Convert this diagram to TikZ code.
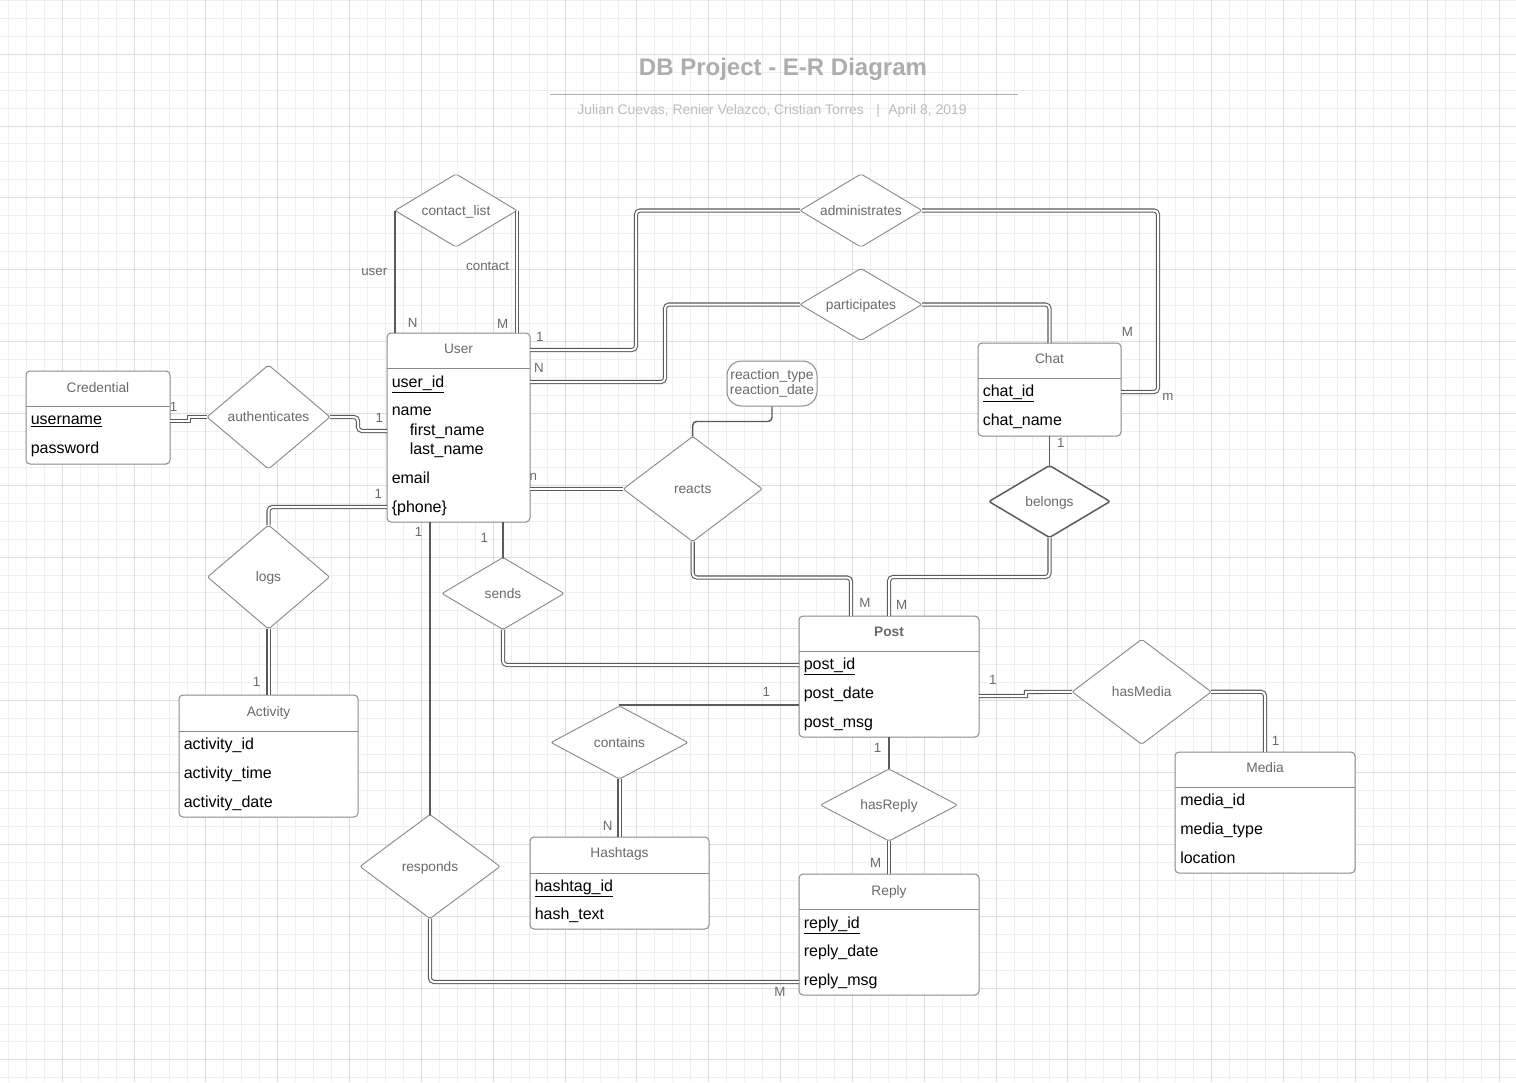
\documentclass[tikz,border=0pt]{standalone}
\usepackage{fontspec}
\setmainfont{Liberation Sans}
\usetikzlibrary{shapes.geometric,calc}
\definecolor{gridminor}{HTML}{EFEFEF}
\definecolor{gridmajor}{HTML}{DDDDDD}
\definecolor{linec}{HTML}{5A5A5A}
\definecolor{boxc}{HTML}{8A8A8A}
\definecolor{txtg}{HTML}{6A6A6A}
\definecolor{titlec}{HTML}{ADADAD}
\definecolor{subc}{HTML}{BDBDBD}
\begin{document}
\begin{tikzpicture}[x=0.75pt,y=-0.75pt,
  ent/.style={draw=boxc, line width=0.75pt, rounded corners=3pt, fill=white, anchor=north west, inner sep=0, outer sep=0},
  sep/.style={draw=boxc, line width=0.75pt},
  rel/.style={diamond, draw=boxc, line width=0.7pt, fill=white, inner sep=0, outer sep=0, rounded corners=1.5pt,
    font=\fontsize{10.3}{12}\selectfont, text=txtg, text height=0.7em, text depth=0pt},
  hdr/.style={font=\fontsize{10.3}{12}\selectfont, text=txtg, inner sep=0, text height=0.7em, text depth=0pt},
  attr/.style={font=\fontsize{12}{14}\selectfont, text=black, anchor=west, inner sep=0, text height=0.7em, text depth=0pt, yshift=-1.1pt},
  card/.style={font=\fontsize{10}{12}\selectfont, text=txtg, inner sep=0, text height=0.7em, text depth=0pt},
  dbl/.style={draw=linec, line width=0.8pt, double=white, double distance=1.5pt, rounded corners=3pt},
  dbljog/.style={draw=linec, line width=0.8pt, double=white, double distance=1.5pt, line join=miter},
  sgl/.style={draw=linec, line width=1.1pt},
]
\useasboundingbox (0,0) rectangle (1516,1082);
\fill[white] (0,0) rectangle (1516,1082);
% grid
\foreach \k in {0,...,84} {\pgfmathsetmacro\xx{8.3+17.96*\k}\draw[gridminor, line width=0.75pt] (\xx,0) -- (\xx,1082);}
\foreach \k in {0,...,60} {\pgfmathsetmacro\yy{0.3+17.96*\k}\draw[gridminor, line width=0.75pt] (0,\yy) -- (1516,\yy);}
\foreach \k in {3,7,...,83} {\pgfmathsetmacro\xx{8.3+17.96*\k}\draw[gridmajor, line width=0.75pt] (\xx,0) -- (\xx,1082);}
\foreach \k in {3,7,...,59} {\pgfmathsetmacro\yy{0.3+17.96*\k}\draw[gridmajor, line width=0.75pt] (0,\yy) -- (1516,\yy);}

% title
\node[font=\fontsize{18}{20}\selectfont\bfseries, text=titlec, inner sep=0, text height=0.72em, text depth=0pt] (title) at (783,70.5) {DB Project - E-R Diagram};
\draw[titlec, line width=1.4pt] (550,94.5) -- (1018,94.5);
\node[font=\fontsize{10.45}{12}\selectfont, text=subc, inner sep=0, text height=0.72em, text depth=0pt] (subtitle) at (772,109.5) {Julian Cuevas, Renier Velazco, Cristian Torres\hspace{0.9em}|\hspace{0.6em}April 8, 2019};

% entities
\node[ent, minimum width=144*0.75pt, minimum height=93*0.75pt] (credential) at (26,371) {};
\draw[sep] ($(credential.north west)+(0,35)$) -- ($(credential.north east)+(0,35)$);
\node[hdr] (credentialh) at ($(credential.north)+(0,16.5)$) {Credential};
\node[attr] (cred1) at ($(credential.north west)+(4.5,47)$) {\underline{username}};
\node[attr] (cred2) at ($(credential.north west)+(4.5,76)$) {password};

\node[ent, minimum width=143*0.75pt, minimum height=189*0.75pt] (user) at (387,333) {};
\draw[sep] ($(user.north west)+(0,35)$) -- ($(user.north east)+(0,35)$);
\node[hdr] (userh) at ($(user.north)+(0,16)$) {User};
\node[attr] (user1) at ($(user.north west)+(4.5,48)$) {\underline{user\_id}};
\node[attr] (user2) at ($(user.north west)+(4.5,76)$) {name};
\node[attr] (user3) at ($(user.north west)+(22.5,96)$) {first\_name};
\node[attr] (user4) at ($(user.north west)+(22.5,115)$) {last\_name};
\node[attr] (user5) at ($(user.north west)+(4.5,144)$) {email};
\node[attr] (user6) at ($(user.north west)+(4.5,173)$) {\{phone\}};

\node[ent, minimum width=143*0.75pt, minimum height=93*0.75pt] (chat) at (978,343) {};
\draw[sep] ($(chat.north west)+(0,35)$) -- ($(chat.north east)+(0,35)$);
\node[hdr] (chath) at ($(chat.north)+(0,16)$) {Chat};
\node[attr] (chat1) at ($(chat.north west)+(4.5,47)$) {\underline{chat\_id}};
\node[attr] (chat2) at ($(chat.north west)+(4.5,76)$) {chat\_name};

\node[ent, minimum width=180*0.75pt, minimum height=121*0.75pt] (post) at (799,616) {};
\draw[sep] ($(post.north west)+(0,35)$) -- ($(post.north east)+(0,35)$);
\node[hdr, font=\fontsize{10.3}{12}\selectfont\bfseries] (posth) at ($(post.north)+(0,16)$) {Post};
\node[attr] (post1) at ($(post.north west)+(4.5,47)$) {\underline{post\_id}};
\node[attr] (post2) at ($(post.north west)+(4.5,76)$) {post\_date};
\node[attr] (post3) at ($(post.north west)+(4.5,105)$) {post\_msg};

\node[ent, minimum width=179*0.75pt, minimum height=122*0.75pt] (activity) at (179,695) {};
\draw[sep] ($(activity.north west)+(0,36)$) -- ($(activity.north east)+(0,36)$);
\node[hdr] (activityh) at ($(activity.north)+(0,16.5)$) {Activity};
\node[attr] (act1) at ($(activity.north west)+(4.5,48)$) {activity\_id};
\node[attr] (act2) at ($(activity.north west)+(4.5,77)$) {activity\_time};
\node[attr] (act3) at ($(activity.north west)+(4.5,106)$) {activity\_date};

\node[ent, minimum width=179*0.75pt, minimum height=92*0.75pt] (hashtags) at (530,837) {};
\draw[sep] ($(hashtags.north west)+(0,36)$) -- ($(hashtags.north east)+(0,36)$);
\node[hdr] (hashtagsh) at ($(hashtags.north)+(0,16)$) {Hashtags};
\node[attr] (hash1) at ($(hashtags.north west)+(4.5,48)$) {\underline{hashtag\_id}};
\node[attr] (hash2) at ($(hashtags.north west)+(4.5,76)$) {hash\_text};

\node[ent, minimum width=180*0.75pt, minimum height=121*0.75pt] (reply) at (799,874) {};
\draw[sep] ($(reply.north west)+(0,35)$) -- ($(reply.north east)+(0,35)$);
\node[hdr] (replyh) at ($(reply.north)+(0,17)$) {Reply};
\node[attr] (rep1) at ($(reply.north west)+(4.5,48)$) {\underline{reply\_id}};
\node[attr] (rep2) at ($(reply.north west)+(4.5,76)$) {reply\_date};
\node[attr] (rep3) at ($(reply.north west)+(4.5,105)$) {reply\_msg};

\node[ent, minimum width=180*0.75pt, minimum height=121*0.75pt] (media) at (1175,752) {};
\draw[sep] ($(media.north west)+(0,35)$) -- ($(media.north east)+(0,35)$);
\node[hdr] (mediah) at ($(media.north)+(0,15.5)$) {Media};
\node[attr] (med1) at ($(media.north west)+(5,47)$) {media\_id};
\node[attr] (med2) at ($(media.north west)+(5,76)$) {media\_type};
\node[attr] (med3) at ($(media.north west)+(5,105)$) {location};

% relationships
\node[rel, minimum width=122*0.75pt, minimum height=73*0.75pt, shape aspect=1.67] (contactlist) at (456,210.5) {contact\_list};
\node[rel, minimum width=122*0.75pt, minimum height=73*0.75pt, shape aspect=1.67] (administrates) at (861,210.5) {administrates};
\node[rel, minimum width=122*0.75pt, minimum height=72*0.75pt, shape aspect=1.69] (participates) at (861,304.5) {participates};
\node[rel, minimum width=123*0.75pt, minimum height=104*0.75pt, shape aspect=1.18] (authenticates) at (268.5,417) {authenticates};
\node[rel, minimum width=139*0.75pt, minimum height=105*0.75pt, shape aspect=1.32] (reacts) at (692.7,489) {reacts};
\node[rel, draw=linec, line width=1.1pt, minimum width=121*0.75pt, minimum height=72*0.75pt, shape aspect=1.68] (belongs) at (1049.5,501.5) {belongs};
\node[rel, minimum width=122*0.75pt, minimum height=104*0.75pt, shape aspect=1.17] (logs) at (268.5,577) {logs};
\node[rel, minimum width=122*0.75pt, minimum height=72*0.75pt, shape aspect=1.69] (sends) at (503,593.5) {sends};
\node[rel, minimum width=139*0.75pt, minimum height=105*0.75pt, shape aspect=1.32] (hasmedia) at (1141.7,691.8) {hasMedia};
\node[rel, minimum width=137*0.75pt, minimum height=73*0.75pt, shape aspect=1.88] (contains) at (619.5,742.5) {contains};
\node[rel, minimum width=137*0.75pt, minimum height=72*0.75pt, shape aspect=1.9] (hasreply) at (889,805) {hasReply};
\node[rel, minimum width=140*0.75pt, minimum height=104*0.75pt, shape aspect=1.35] (responds) at (430,866.5) {responds};

\node[draw=boxc, line width=0.75pt, rounded corners=11pt, minimum width=90*0.75pt, minimum height=45*0.75pt, inner sep=0, fill=white, align=center, font=\fontsize{10.4}{11.7}\selectfont, text=txtg] (reaction) at (772,383.5) {reaction\_type\\reaction\_date};

% connectors (double)
\draw[dbljog] ($(credential.north east)+(0,50)$) -- ++(19,0) -- ++(0,-4) -- (authenticates.west);
\draw[dbl] (authenticates.east) -- ++(28,0) |- ($(user.north west)+(0,98)$);
\draw[dbl] ($(user.north west)+(0,174)$) -| (logs.north);
\draw[dbl] (logs.south) -- (activity.north);
\draw[dbl] (contactlist.east) -- (contactlist.east |- user.north);
\draw[dbl] ($(user.north east)+(0,17)$) -- ++(106,0) |- (administrates.west);
\draw[dbl] (administrates.east) -- ++(236,0) |- ($(chat.north east)+(0,49)$);
\draw[dbl] ($(user.north east)+(0,49)$) -- ++(135,0) |- (participates.west);
\draw[dbl] (participates.east) -| (chat.north);
\draw[dbl] ($(user.north east)+(0,156)$) -- (reacts.west);
\draw[dbl] (reacts.south) -- ++(0,36) -| ($(post.north west)+(52,0)$);
\draw[dbl] (belongs.south) -- ++(0,39.5) -| (post.north);
\draw[dbl] (sends.south) |- ($(post.north west)+(0,49)$);
\draw[dbl] (contains.south) -- (hashtags.north);
\draw[dbljog] ($(post.north east)+(0,80)$) -- ++(47,0) -- ++(0,-4) -- (hasmedia.west);
\draw[dbl] (hasmedia.east) -| (media.north);
\draw[dbl] (hasreply.south) -- (reply.north);
\draw[dbl] (responds.south) |- ($(reply.north west)+(0,108)$);

% connectors (single)
\draw[sgl] (contactlist.west) -- (contactlist.west |- user.north);
\draw[sgl, rounded corners=3pt] (reaction.south) -- ++(0,15) -| (reacts.north);
\draw[sgl] (chat.south) -- (belongs.north);
\draw[sgl] ($(user.south west)+(116,0)$) -- (sends.north);
\draw[sgl] ($(user.south west)+(43,0)$) -- (responds.north);
\draw[sgl] ($(post.north west)+(0,89)$) -| (contains.north);
\draw[sgl] (post.south) -- (hasreply.north);

% cardinality / role labels
\node[card] (l1) at (173.7,407.3) {1};
\node[card] (l2) at (379.3,418.3) {1};
\node[card] (l3) at (378.3,494.3) {1};
\node[card] (l4) at (374.3,270.7) {user};
\node[card] (l5) at (487.7,265.7) {contact};
\node[card] (l6) at (412.7,322.7) {N};
\node[card] (l7) at (502.7,324.3) {M};
\node[card] (l8) at (539.8,336.5) {1};
\node[card] (l9) at (539,367.7) {N};
\node[card] (l10) at (1127.3,331.7) {M};
\node[card] (l11) at (1168,396) {m};
\node[card] (l12) at (1060.8,443) {1};
\node[card] (l13) at (533.4,476) {n};
\node[card] (l14) at (864.8,602.7) {M};
\node[card] (l15) at (901.6,605.3) {M};
\node[card] (l16) at (418.7,531.7) {1};
\node[card] (l17) at (484.3,537.7) {1};
\node[card] (l18) at (256.7,681.7) {1};
\node[card] (l19) at (766.3,691.7) {1};
\node[card] (l20) at (992.8,680) {1};
\node[card] (l21) at (1275.6,740.7) {1};
\node[card] (l22) at (877.6,748.3) {1};
\node[card] (l23) at (875.7,862.7) {M};
\node[card] (l24) at (607.7,825.7) {N};
\node[card] (l25) at (779.8,991.7) {M};
\end{tikzpicture}
\end{document}
